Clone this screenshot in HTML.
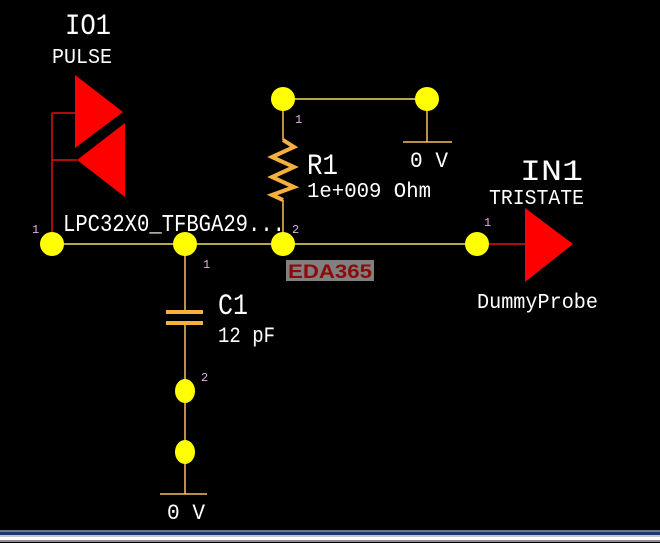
<!DOCTYPE html>
<html><head><meta charset="utf-8"><style>
html,body{margin:0;padding:0;background:#000;width:660px;height:543px;overflow:hidden}
svg{display:block}
text{font-family:"Liberation Mono",monospace;fill:#fff}
.p{fill:#e0b0e0;font-size:12px}
</style></head><body>
<svg width="660" height="543" viewBox="0 0 660 543">
<rect width="660" height="543" fill="#000"/>
<!-- wires -->
<g stroke="#f0e060" stroke-width="1.5" fill="none">
<line x1="52" y1="244" x2="477" y2="244"/>
<line x1="283" y1="99" x2="427" y2="99"/>
</g>
<g stroke="#f5c060" stroke-width="1.5" fill="none">
<line x1="427" y1="99" x2="427" y2="142"/>
<line x1="403" y1="142" x2="452" y2="142"/>
<line x1="283" y1="99" x2="283" y2="140"/>
<line x1="283" y1="200" x2="283" y2="244"/>
<line x1="185" y1="244" x2="185" y2="312"/>
<line x1="185" y1="323" x2="185" y2="494"/>
<line x1="160" y1="494" x2="207" y2="494"/>
</g>
<polyline points="283,140 294,147 272,157 294,167 272,177 294,187 272,195 283,200" stroke="#f5b040" stroke-width="4" fill="none"/>
<rect x="166" y="310" width="37" height="4" fill="#f5b040"/>
<rect x="166" y="321" width="37" height="4" fill="#f5b040"/>
<!-- red -->
<g stroke="#e01010" stroke-width="1.5" fill="none">
<line x1="52" y1="113" x2="52" y2="244"/>
<line x1="52" y1="113" x2="76" y2="113"/>
<line x1="52" y1="160" x2="77" y2="160"/>
<line x1="477" y1="244" x2="525" y2="244"/>
</g>
<polygon points="75,75 123,112 75,148" fill="#ff0000"/>
<polygon points="125,123 125,197 77,160" fill="#ff0000"/>
<polygon points="525,208 573,244 525,282" fill="#ff0000"/>
<!-- dots -->
<g fill="#ffff00">
<circle cx="52" cy="244" r="12"/>
<circle cx="185" cy="244" r="12"/>
<circle cx="283" cy="244" r="12"/>
<circle cx="283" cy="99" r="12"/>
<circle cx="427" cy="99" r="12"/>
<circle cx="477" cy="244" r="12"/>
<ellipse cx="185" cy="391" rx="10" ry="12"/>
<ellipse cx="185" cy="452" rx="10" ry="12"/>
</g>
<!-- texts -->
<text x="65" y="34" font-size="30" textLength="46" lengthAdjust="spacingAndGlyphs">IO1</text>
<text x="52" y="63" font-size="21" textLength="60" lengthAdjust="spacingAndGlyphs">PULSE</text>
<text x="63" y="231" font-size="24" textLength="222" lengthAdjust="spacingAndGlyphs">LPC32X0_TFBGA29...</text>
<text x="307" y="174" font-size="30" textLength="31" lengthAdjust="spacingAndGlyphs">R1</text>
<text x="307" y="197" font-size="21" textLength="124" lengthAdjust="spacingAndGlyphs">1e+009 Ohm</text>
<text x="410" y="167" font-size="22" textLength="38" lengthAdjust="spacingAndGlyphs">0 V</text>
<text x="520" y="180" font-size="30" textLength="63" lengthAdjust="spacingAndGlyphs">IN1</text>
<text x="489" y="204" font-size="21" textLength="95" lengthAdjust="spacingAndGlyphs">TRISTATE</text>
<text x="477" y="308" font-size="21" textLength="121" lengthAdjust="spacingAndGlyphs">DummyProbe</text>
<text x="218" y="314" font-size="30" textLength="30" lengthAdjust="spacingAndGlyphs">C1</text>
<text x="218" y="342" font-size="22" textLength="57" lengthAdjust="spacingAndGlyphs">12 pF</text>
<text x="167" y="519" font-size="22" textLength="38" lengthAdjust="spacingAndGlyphs">0 V</text>
<text class="p" x="32" y="233">1</text>
<text class="p" x="203" y="268">1</text>
<text class="p" x="292" y="233">2</text>
<text class="p" x="295" y="123">1</text>
<text class="p" x="201" y="381">2</text>
<text class="p" x="484" y="226">1</text>
<rect x="286" y="260" width="88" height="21" fill="#808080"/>
<text x="288" y="278" font-family="Liberation Sans,sans-serif" font-weight="bold" font-size="19" style="fill:#8b0a0a;font-family:'Liberation Sans',sans-serif" textLength="84" lengthAdjust="spacingAndGlyphs">EDA365</text>
<!-- bottom bars -->
<rect x="0" y="530" width="660" height="2" fill="#6a7a80"/>
<rect x="0" y="532" width="660" height="3" fill="#1a3a70"/>
<rect x="0" y="535" width="660" height="2" fill="#c8c8c8"/>
<rect x="0" y="537" width="660" height="3" fill="#ffffff"/>
<rect x="0" y="540" width="660" height="2" fill="#909090"/>
<rect x="0" y="542" width="660" height="1" fill="#000"/>
</svg>
</body></html>
